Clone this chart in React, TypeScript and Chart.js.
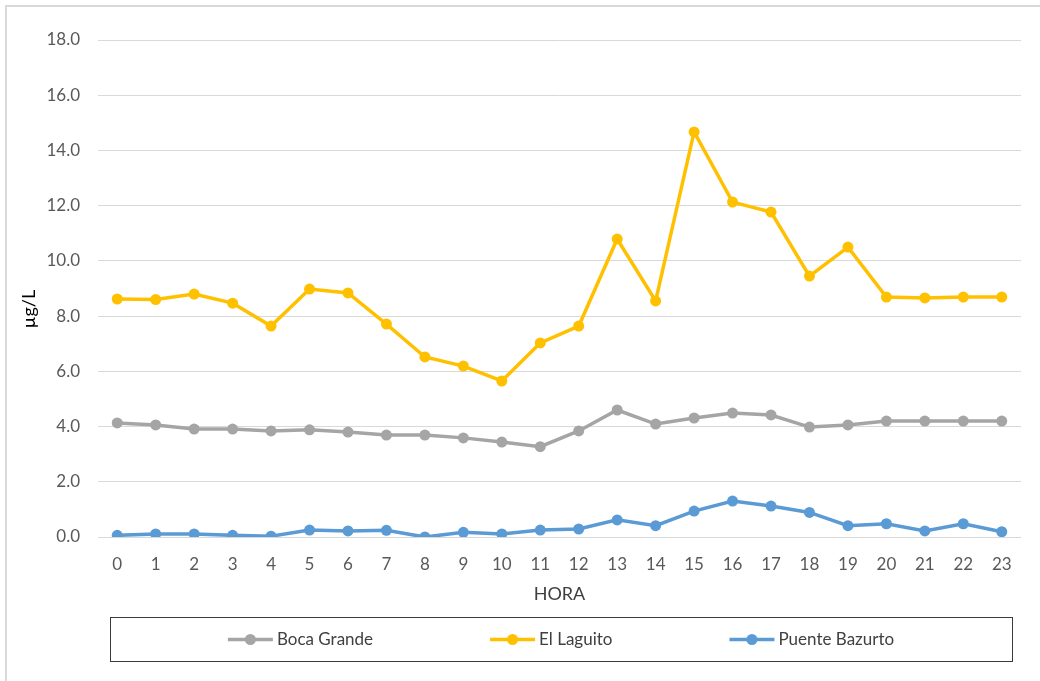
import React, { useEffect, useRef } from "react";
import { Chart, registerables } from "chart.js";

Chart.register(...registerables);

const hours = ["0","1","2","3","4","5","6","7","8","9","10","11","12","13","14","15","16","17","18","19","20","21","22","23"];

const bocaGrande = [4.13, 4.06, 3.91, 3.91, 3.84, 3.88, 3.80, 3.69, 3.69, 3.59, 3.44, 3.27, 3.84, 4.60, 4.09, 4.31, 4.49, 4.42, 3.98, 4.06, 4.20, 4.20, 4.20, 4.20];
const elLaguito = [8.62, 8.60, 8.80, 8.47, 7.64, 8.98, 8.84, 7.71, 6.52, 6.19, 5.65, 7.03, 7.64, 10.79, 8.55, 14.67, 12.13, 11.77, 9.45, 10.50, 8.69, 8.66, 8.69, 8.69];
const puenteBazurto = [0.06, 0.11, 0.11, 0.06, 0.03, 0.25, 0.22, 0.24, 0.00, 0.17, 0.11, 0.25, 0.29, 0.62, 0.41, 0.94, 1.30, 1.12, 0.89, 0.41, 0.48, 0.22, 0.48, 0.19];

const seriesNames = ["Boca Grande", "El Laguito", "Puente Bazurto"];
const seriesColors = ["#a5a5a5", "#ffc000", "#5b9bd5"];

const yTitle = "µg/L";
const xTitle = "HORA";

const FONT = "Lato, 'Open Sans', sans-serif";

const decorPlugin = {
  id: "decor",
  beforeDraw(chart: any) {
    const ctx = chart.ctx;
    ctx.save();
    ctx.fillStyle = "#ffffff";
    ctx.fillRect(0, 0, chart.width, chart.height);
    ctx.strokeStyle = "#d9d9d9";
    ctx.lineWidth = 2;
    ctx.strokeRect(6, 6, chart.width + 50, chart.height + 50);
    ctx.restore();
  },
  afterDraw(chart: any) {
    const ctx = chart.ctx;
    const area = chart.chartArea;
    ctx.save();
    // axis titles
    ctx.fillStyle = "#404040";
    ctx.font = `18px ${FONT}`;
    ctx.textAlign = "center";
    ctx.textBaseline = "middle";
    ctx.fillText(xTitle, (area.left + area.right) / 2, 594);

    ctx.save();
    ctx.translate(29, 309);
    ctx.rotate(-Math.PI / 2);
    ctx.fillStyle = "#000000";
    ctx.font = `18px ${FONT}`;
    ctx.fillText(yTitle, 0, 0);
    ctx.restore();

    // legend box
    const boxL = 110, boxR = 1012, boxT = 617, boxB = 661;
    ctx.strokeStyle = "#3a3a3a";
    ctx.lineWidth = 1;
    ctx.strokeRect(boxL + 0.5, boxT + 0.5, boxR - boxL, boxB - boxT);

    ctx.font = `17px ${FONT}`;
    const sampleW = 45, gapText = 4, gapItem = 117;
    const datasets = chart.data.datasets;
    const widths = datasets.map((d: any) => sampleW + gapText + ctx.measureText(d.label).width);
    const total = widths.reduce((a: number, b: number) => a + b, 0) + gapItem * (datasets.length - 1);
    let x = (boxL + boxR) / 2 - total / 2;
    const cy = (boxT + boxB) / 2 + 0.5;
    datasets.forEach((d: any, i: number) => {
      ctx.strokeStyle = d.borderColor;
      ctx.lineWidth = 3.5;
      ctx.beginPath();
      ctx.moveTo(x, cy);
      ctx.lineTo(x + sampleW, cy);
      ctx.stroke();
      ctx.fillStyle = d.borderColor;
      ctx.beginPath();
      ctx.arc(x + sampleW / 2, cy, 5.5, 0, Math.PI * 2);
      ctx.fill();
      ctx.fillStyle = "#404040";
      ctx.textAlign = "left";
      ctx.textBaseline = "middle";
      ctx.fillText(d.label, x + sampleW + gapText, cy);
      x += widths[i] + gapItem;
    });
    ctx.restore();
  },
};

export default function App() {
  const ref = useRef<HTMLCanvasElement | null>(null);
  useEffect(() => {
    if (!ref.current) return;
    const seriesValues = [bocaGrande, elLaguito, puenteBazurto];
    const chart = new Chart(ref.current, {
      type: "line",
      data: {
        labels: hours,
        datasets: seriesValues.map((vals, i) => ({
          label: seriesNames[i],
          data: vals,
          borderColor: seriesColors[i],
          backgroundColor: seriesColors[i],
          pointBackgroundColor: seriesColors[i],
          pointBorderColor: seriesColors[i],
          borderWidth: 3.5,
          pointRadius: 5.5,
          pointBorderWidth: 0,
          tension: 0,
          fill: false,
        })),
      },
      options: {
        responsive: false,
        animation: false,
        devicePixelRatio: 1,
        layout: { padding: { left: 0, top: 40, right: 19, bottom: 0 } },
        plugins: {
          legend: { display: false },
          tooltip: { enabled: false },
          title: { display: false },
        },
        scales: {
          x: {
            type: "category",
            offset: true,
            grid: { display: false, drawTicks: false },
            border: { display: false },
            ticks: {
              color: "#595959",
              font: { family: FONT, size: 17 },
              padding: 17,
              maxRotation: 0,
              autoSkip: false,
            },
            afterFit(scale: any) {
              scale.height = 144;
            },
          },
          y: {
            min: 0,
            max: 18,
            grid: { color: "#d9d9d9", lineWidth: 1, drawTicks: false },
            border: { display: false },
            ticks: {
              stepSize: 2,
              color: "#595959",
              font: { family: FONT, size: 17 },
              padding: 18,
              callback: (v: any) => Number(v).toFixed(1),
            },
            afterFit(scale: any) {
              scale.width = 98;
            },
          },
        },
      },
      plugins: [decorPlugin],
    });
    return () => chart.destroy();
  }, []);
  return (
    <div style={{ position: "absolute", left: 0, top: 0, width: 1040, height: 681 }}>
      <canvas ref={ref} width={1040} height={681} />
    </div>
  );
}
